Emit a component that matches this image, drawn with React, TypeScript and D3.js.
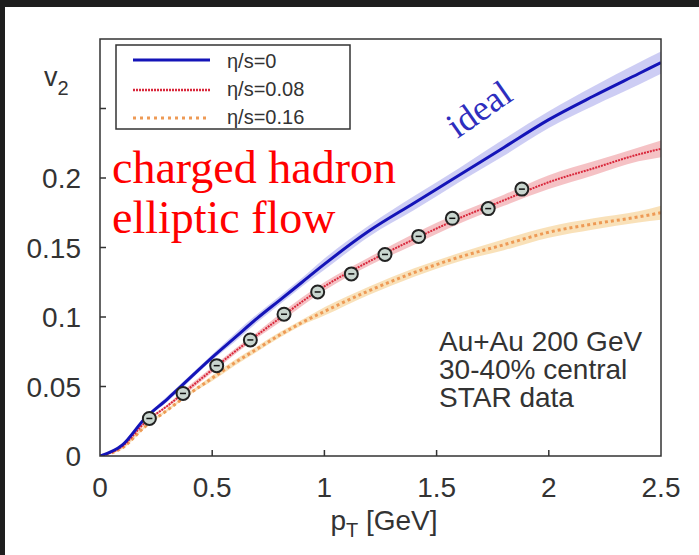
import React from "react";
import * as d3 from "d3";

// hydro curves, v2 vs pT
const ptGrid = [0, 0.1, 0.2, 0.3, 0.4, 0.5, 0.6, 0.7, 0.8, 0.9, 1.0, 1.2, 1.4, 1.6, 1.8, 2.0, 2.2, 2.4, 2.5];
const v2Ideal = [0, 0.008, 0.027, 0.041, 0.056, 0.071, 0.085, 0.099, 0.112, 0.125, 0.138, 0.162, 0.182, 0.202, 0.222, 0.242, 0.259, 0.275, 0.283];
const v2Visc08 = [0, 0.007, 0.024, 0.036, 0.049, 0.062, 0.075, 0.087, 0.099, 0.111, 0.122, 0.140, 0.156, 0.171, 0.184, 0.197, 0.207, 0.217, 0.221];
const v2Visc16 = [0, 0.006, 0.021, 0.033, 0.045, 0.056, 0.067, 0.077, 0.087, 0.096, 0.104, 0.119, 0.132, 0.143, 0.152, 0.161, 0.167, 0.172, 0.175];
const errIdeal = [0, 0.001, 0.001, 0.002, 0.002, 0.002, 0.003, 0.003, 0.003, 0.003, 0.004, 0.004, 0.005, 0.005, 0.006, 0.006, 0.007, 0.008, 0.008];
const errVisc08 = [0, 0.001, 0.001, 0.001, 0.002, 0.002, 0.002, 0.002, 0.003, 0.003, 0.003, 0.003, 0.004, 0.004, 0.004, 0.005, 0.005, 0.005, 0.006];
const errVisc16 = [0, 0.001, 0.001, 0.001, 0.001, 0.002, 0.002, 0.002, 0.002, 0.002, 0.003, 0.003, 0.003, 0.003, 0.004, 0.004, 0.004, 0.004, 0.005];

// STAR data points
const starPt = [0.22, 0.37, 0.52, 0.67, 0.82, 0.97, 1.12, 1.27, 1.42, 1.57, 1.73, 1.88];
const starV2 = [0.027, 0.045, 0.065, 0.0835, 0.102, 0.118, 0.131, 0.145, 0.158, 0.171, 0.178, 0.192];

const xTicks = [0, 0.5, 1, 1.5, 2, 2.5];
const yTicks = [0, 0.05, 0.1, 0.15, 0.2];
const yMinor = [0.25];
const legendLabels = ["η/s=0", "η/s=0.08", "η/s=0.16"];
const infoLines = ["Au+Au 200 GeV", "30-40% central", "STAR data"];

const W = 699;
const H = 555;
const left = 100;
const right = 661;
const top = 39;
const bottom = 456;

const App = () => {
  const x = d3.scaleLinear().domain([0, 2.5]).range([left, right]);
  const y = d3.scaleLinear().domain([0, 0.3]).range([bottom, top]);

  const line = d3
    .line<number>()
    .x((d, i) => x(ptGrid[i]))
    .y((d) => y(d))
    .curve(d3.curveMonotoneX);

  const band = (vals: number[], errs: number[]) =>
    d3
      .area<number>()
      .x((d, i) => x(ptGrid[i]))
      .y0((d, i) => y(d - errs[i]))
      .y1((d, i) => y(d + errs[i]))
      .curve(d3.curveMonotoneX)(vals) as string;

  const sans = "'Liberation Sans', Arial, sans-serif";
  const serif = "'Liberation Serif', 'Times New Roman', serif";

  return (
    <svg
      width={W}
      height={H}
      style={{ position: "absolute", left: 0, top: 0, background: "#fff" }}
    >
      <rect x={0} y={0} width={W} height={7} fill="#1e1e1e" />
      <rect x={0} y={0} width={5} height={H} fill="#1e1e1e" />
      <defs>
        <clipPath id="plot">
          <rect x={left} y={top} width={right - left} height={bottom - top} />
        </clipPath>
      </defs>

      <g clipPath="url(#plot)">
        <path d={band(v2Visc16, errVisc16)} fill="#f8d9a8" opacity={0.8} />
        <path d={band(v2Visc08, errVisc08)} fill="#f2b3b6" opacity={0.8} />
        <path d={band(v2Ideal, errIdeal)} fill="#c4c4f2" opacity={0.85} />
        <path d={line(v2Visc16) as string} fill="none" stroke="#ee9a55" strokeWidth={3} strokeDasharray="3,3" />
        <path d={line(v2Visc08) as string} fill="none" stroke="#d9283c" strokeWidth={2} strokeDasharray="2,1" />
        <path d={line(v2Ideal) as string} fill="none" stroke="#1414b8" strokeWidth={3} />
        {starPt.map((p, i) => (
          <g key={i}>
            <circle cx={x(p)} cy={y(starV2[i])} r={6.5} fill="#c9d6cf" stroke="#222" strokeWidth={2} />
            <line x1={x(p) - 3} x2={x(p) + 3} y1={y(starV2[i])} y2={y(starV2[i])} stroke="#111" strokeWidth={1.5} />
          </g>
        ))}
      </g>

      <rect x={left} y={top} width={right - left} height={bottom - top} fill="none" stroke="#333" strokeWidth={1.5} />

      {xTicks.slice(1, -1).map((t) => (
        <line key={t} x1={x(t)} x2={x(t)} y1={bottom} y2={bottom - 6} stroke="#333" strokeWidth={1.5} />
      ))}
      {yTicks.slice(1).concat(yMinor).map((t) => (
        <line key={t} x1={left} x2={left + 6} y1={y(t)} y2={y(t)} stroke="#333" strokeWidth={1.5} />
      ))}

      {xTicks.map((t) => (
        <text key={t} x={x(t)} y={497} textAnchor="middle" fontFamily={sans} fontSize={28} fill="#333">
          {t}
        </text>
      ))}
      {yTicks.map((t) => (
        <text key={t} x={81} y={y(t) + 10} textAnchor="end" fontFamily={sans} fontSize={28} fill="#333">
          {t}
        </text>
      ))}

      <text x={44} y={86} fontFamily={sans} fontSize={27} fill="#333">
        v<tspan fontSize={20} dy={9}>2</tspan>
      </text>
      <text x={384} y={530} textAnchor="middle" fontFamily={sans} fontSize={28} fill="#333">
        p<tspan fontSize={20} dy={7}>T</tspan>
        <tspan dy={-7}> [GeV]</tspan>
      </text>

      {/* legend */}
      <rect x={116} y={45} width={234} height={84} fill="#fff" stroke="#333" strokeWidth={1.5} />
      <line x1={133} x2={210} y1={60} y2={60} stroke="#1414b8" strokeWidth={3} />
      <line x1={133} x2={210} y1={90} y2={90} stroke="#d9283c" strokeWidth={2.5} strokeDasharray="2,1" />
      <line x1={133} x2={210} y1={118} y2={118} stroke="#ee9a55" strokeWidth={3} strokeDasharray="3,4" />
      {legendLabels.map((l, i) => (
        <text key={l} x={227} y={68 + i * 28} fontFamily={sans} fontSize={20} fill="#333">
          {l}
        </text>
      ))}

      {infoLines.map((l, i) => (
        <text key={l} x={439} y={351 + i * 28} fontFamily={sans} fontSize={28} fill="#333">
          {l}
        </text>
      ))}

      <text x={112} y={183} fontFamily={serif} fontSize={46} fill="#ff0000">
        charged hadron
      </text>
      <text x={112} y={233} fontFamily={serif} fontSize={46} fill="#ff0000">
        elliptic flow
      </text>
      <text
        x={486}
        y={119}
        textAnchor="middle"
        transform="rotate(-35 486 119)"
        fontFamily={serif}
        fontSize={36}
        fill="#2e2ebe"
      >
        ideal
      </text>
    </svg>
  );
};

export default App;
